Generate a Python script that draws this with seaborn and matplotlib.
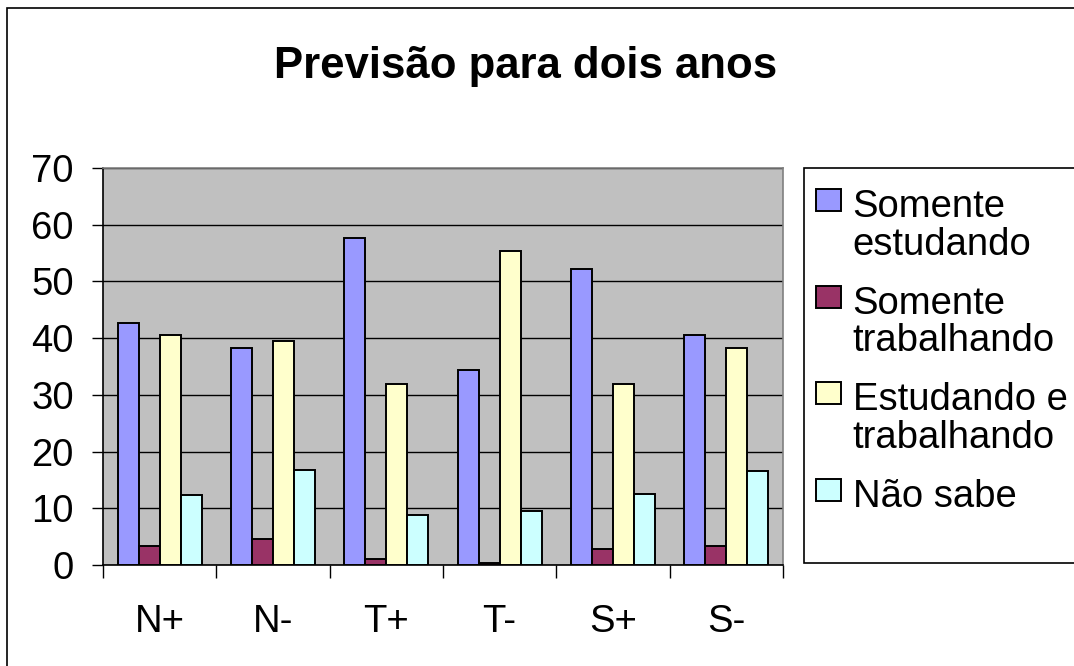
import numpy as np
import pandas as pd
import matplotlib
matplotlib.use('Agg')
import matplotlib.pyplot as plt
from matplotlib.patches import Rectangle
import seaborn as sns

# values
categories = ['N+', 'N-', 'T+', 'T-', 'S+', 'S-']
somente_estudando = [42.6, 38.2, 57.7, 34.4, 52.2, 40.6]
somente_trabalhando = [3.4, 4.5, 1.0, 0.3, 2.8, 3.4]
estudando_e_trabalhando = [40.6, 39.5, 32.0, 55.4, 32.0, 38.2]
nao_sabe = [12.3, 16.7, 8.8, 9.5, 12.6, 16.6]

series_names = ['Somente\nestudando', 'Somente\ntrabalhando',
                'Estudando e\ntrabalhando', 'Não sabe']
series_colors = ['#9999FF', '#993366', '#FFFFCC', '#CCFFFF']

df = pd.DataFrame({
    'Grupo': categories * 4,
    'Serie': np.repeat(series_names, len(categories)),
    'Valor': somente_estudando + somente_trabalhando
             + estudando_e_trabalhando + nao_sabe,
})

sns.set_theme(style='white')
plt.rcParams['font.family'] = ['Liberation Sans', 'DejaVu Sans']
plt.rcParams['text.color'] = 'black'
plt.rcParams['xtick.color'] = 'black'
plt.rcParams['ytick.color'] = 'black'

W, H = 1074, 666
fig = plt.figure(figsize=(W / 100, H / 100), dpi=100)
fig.patch.set_facecolor('white')

# outer chart frame (runs off the right/bottom of the picture)
fig.add_artist(Rectangle((6.5 / W, -0.1), 1.2, (H - 7.5) / H + 0.1,
                         transform=fig.transFigure, fill=False,
                         edgecolor='black', linewidth=1.2))

ax = fig.add_axes([103 / W, (H - 565) / H, 680 / W, 397 / H])
ax.set_facecolor('#C0C0C0')

sns.barplot(data=df, x='Grupo', y='Valor', hue='Serie', hue_order=series_names,
            palette=series_colors, width=0.74, edgecolor='black',
            linewidth=1.4, saturation=1, ax=ax, zorder=3)

ax.set_ylim(0, 70)
ax.set_xlim(-0.5, len(categories) - 0.5)
ax.set_yticks(range(0, 71, 10))
ax.yaxis.grid(True, color='black', linewidth=1.0, zorder=0)
ax.set_axisbelow(True)
ax.set_xlabel('')
ax.set_ylabel('')

ax.tick_params(axis='y', labelsize=27.5, length=8, width=1, pad=13,
               direction='out', color='black', labelcolor='black', left=True)
ax.tick_params(axis='x', which='major', labelsize=27.5, length=0, pad=28,
               labelcolor='black')
ax.set_xticks(np.arange(-0.5, len(categories), 1.0), minor=True)
ax.tick_params(axis='x', which='minor', length=9, width=1, color='black',
               direction='out', bottom=True)

for side in ['left', 'bottom']:
    ax.spines[side].set_color('black')
    ax.spines[side].set_linewidth(1.2)
for side in ['top', 'right']:
    ax.spines[side].set_color('#808080')
    ax.spines[side].set_linewidth(1.2)

handles, labels = ax.get_legend_handles_labels()
ax.get_legend().remove()

# legend box (runs off the right edge)
fig.add_artist(Rectangle((804 / W, (H - 563) / H), 0.3, 395 / H,
                         transform=fig.transFigure, facecolor='white',
                         edgecolor='black', linewidth=1.2))
leg = fig.legend(handles, labels, loc='upper left',
                 bbox_to_anchor=(816 / W, (H - 189) / H),
                 bbox_transform=fig.transFigure, frameon=False,
                 fontsize=27.5, handlelength=0.66, handleheight=0.52,
                 handletextpad=0.3, labelspacing=0.6, borderpad=0,
                 borderaxespad=0, labelcolor='black')
for t in leg.get_texts():
    t.set_linespacing(1.06)
# put each square level with the first line of its label
for column in leg._legend_handle_box.get_children():
    for row in column.get_children():
        row.align = 'top'

fig.text(526 / W, (H - 78) / H, 'Previsão para dois anos', ha='center',
         va='baseline', fontsize=31.5, fontweight='bold', color='black')

fig.savefig('out.png', dpi=100, facecolor='white')
